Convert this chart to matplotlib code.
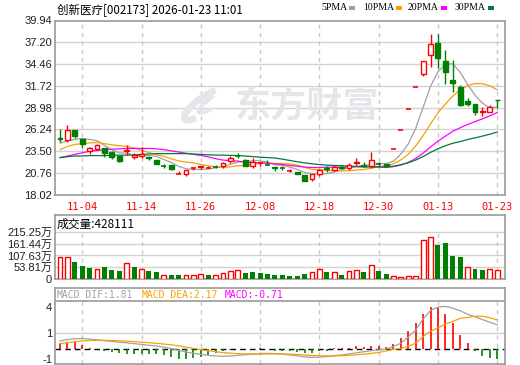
import matplotlib
matplotlib.use('Agg')
import matplotlib.pyplot as plt
from matplotlib.patches import Rectangle, Arc

# ---- data ----
title = '创新医疗[002173] 2026-01-23 11:01'
date_labels = ['11-04', '11-14', '11-26', '12-08', '12-18', '12-30', '01-13', '01-23']
date_idx = [3, 11, 19, 27, 35, 43, 51, 59]

opens = [25.2, 24.9, 26.16, 25.03, 23.56, 23.73, 23.86, 23.44, 22.89, 23.56,
         22.8, 22.9, 22.75, 22.39, 21.7, 21.76, 20.6, 20.67, 21.35, 21.5,
         21.35, 21.6, 21.67, 22.27, 23.0, 22.4, 21.67, 21.95, 21.8, 21.55,
         21.45, 20.95, 20.85, 20.5, 19.97, 20.65, 21.4, 21.14, 21.55, 21.35,
         22.0, 21.8, 21.67, 21.9, 21.85, 23.76, 26.14, 28.75, 31.63, 33.2,
         35.57, 37.1, 34.82, 32.52, 31.6, 29.83, 29.4, 28.4, 28.45, 30.0]
highs = [26.28, 26.78, 26.2, 25.03, 24.06, 24.4, 23.9, 23.5, 22.95, 24.27,
         23.3, 24.0, 22.75, 22.39, 21.9, 21.8, 21.0, 21.14, 21.55, 21.67,
         21.67, 21.76, 22.2, 22.93, 23.3, 22.55, 22.6, 22.2, 22.4, 21.55,
         21.6, 21.25, 20.85, 20.5, 20.6, 21.3, 21.67, 21.76, 21.6, 22.0,
         22.6, 22.2, 23.35, 22.2, 21.9, 23.76, 26.14, 28.75, 31.63, 34.79,
         38.2, 38.3, 36.2, 35.0, 31.8, 30.2, 29.4, 29.0, 29.3, 30.0]
lows = [24.65, 24.65, 25.15, 23.9, 23.1, 23.7, 22.8, 22.48, 22.18, 23.0,
        22.48, 22.7, 22.4, 21.85, 21.35, 21.1, 20.6, 20.42, 21.1, 21.27,
        21.35, 21.35, 21.4, 21.98, 22.7, 21.6, 21.35, 21.7, 21.76, 21.05,
        21.1, 20.85, 20.6, 19.8, 19.8, 20.4, 20.9, 21.0, 21.3, 21.1,
        21.76, 21.5, 21.35, 21.6, 21.5, 23.76, 26.14, 28.75, 31.63, 32.9,
        34.1, 33.97, 31.9, 30.96, 29.2, 29.2, 28.04, 27.95, 28.45, 28.9]
closes = [25.1, 26.16, 25.4, 24.4, 23.86, 24.27, 23.23, 22.8, 22.3, 23.65,
          23.0, 23.2, 22.6, 21.85, 21.65, 21.22, 20.66, 21.14, 21.4, 21.6,
          21.4, 21.55, 22.05, 22.7, 22.95, 21.67, 22.2, 22.0, 21.76, 21.35,
          21.4, 21.0, 20.6, 19.8, 20.6, 21.15, 21.3, 21.55, 21.35, 21.76,
          22.1, 21.7, 22.4, 21.85, 21.6, 23.76, 26.14, 28.75, 31.63, 34.79,
          37.04, 35.28, 33.47, 32.02, 29.3, 29.5, 28.45, 28.5, 29.0, 29.9]

ma5 = [24.5, 24.8, 25.0, 25.1, 24.98, 24.82, 24.23, 23.71, 23.29, 23.25,
       23.0, 22.99, 22.95, 22.86, 22.46, 22.10, 21.60, 21.30, 21.21, 21.20,
       21.24, 21.42, 21.60, 21.86, 22.13, 22.18, 22.31, 22.30, 22.12, 21.80,
       21.74, 21.50, 21.22, 20.83, 20.68, 20.63, 20.69, 20.88, 21.19, 21.42,
       21.61, 21.69, 21.86, 21.96, 21.93, 22.26, 23.15, 24.42, 26.38, 29.01,
       31.66, 33.49, 34.43, 34.51, 33.42, 31.91, 30.55, 29.55, 28.95, 29.07]
ma10 = [23.7, 24.1, 24.35, 24.45, 24.55, 24.6, 24.45, 24.3, 24.2, 24.12,
        23.91, 23.61, 23.33, 23.08, 22.86, 22.55, 22.29, 22.13, 22.04, 21.83,
        21.67, 21.51, 21.45, 21.54, 21.67, 21.71, 21.87, 21.96, 21.99, 21.96,
        21.96, 21.91, 21.76, 21.47, 21.23, 21.18, 21.09, 21.05, 21.01, 21.05,
        21.12, 21.19, 21.37, 21.57, 21.67, 21.93, 22.41, 23.13, 24.16, 25.46,
        26.95, 28.31, 29.42, 30.44, 31.21, 31.78, 32.01, 31.99, 31.73, 31.24]
ma20 = [22.7, 22.9, 23.1, 23.3, 23.5, 23.6, 23.7, 23.75, 23.8, 23.85,
        23.85, 23.85, 23.85, 23.8, 23.7, 23.55, 23.4, 23.25, 23.1, 22.97,
        22.79, 22.56, 22.39, 22.31, 22.26, 22.13, 22.08, 22.04, 22.01, 21.90,
        21.82, 21.71, 21.61, 21.51, 21.46, 21.45, 21.48, 21.50, 21.50, 21.51,
        21.54, 21.55, 21.57, 21.53, 21.46, 21.56, 21.76, 22.10, 22.59, 23.26,
        24.04, 24.76, 25.40, 26.01, 26.45, 26.86, 27.22, 27.57, 27.95, 28.36]
ma30 = [22.7, 22.8, 22.9, 22.9, 22.95, 22.95, 22.95, 23.0, 23.0, 23.0,
        23.05, 23.1, 23.15, 23.2, 23.2, 23.2, 23.2, 23.2, 23.15, 23.1,
        23.05, 23.02, 23.0, 22.98, 22.95, 22.9, 22.82, 22.75, 22.7, 22.64,
        22.51, 22.34, 22.18, 22.03, 21.92, 21.82, 21.75, 21.71, 21.68, 21.62,
        21.59, 21.54, 21.53, 21.53, 21.53, 21.61, 21.80, 22.05, 22.39, 22.83,
        23.35, 23.81, 24.19, 24.50, 24.71, 24.97, 25.18, 25.40, 25.64, 25.92]

# volume in 万
volume = [99, 99, 78, 59, 50, 44, 53, 41, 38, 75,
          53, 47, 38, 32, 17, 18, 18, 17, 17, 23,
          18, 18, 26, 38, 41, 29, 32, 29, 21, 18,
          18, 14, 14, 21, 31, 44, 32, 31, 18, 35,
          41, 32, 63, 38, 23, 12, 9, 14, 14, 177,
          191, 156, 166, 105, 101, 54, 46, 43, 46, 41]
vol_up = 'rrgggrgggr' 'grggrggrrr' 'grrrrggggg' 'ggggrrgrgr' 'rgrggrrrrr' 'rggggrggrr'

dif = [0.62, 0.72, 0.78, 0.8, 0.76, 0.7, 0.64, 0.58, 0.52, 0.48,
       0.42, 0.36, 0.3, 0.24, 0.16, 0.05, -0.08, -0.2, -0.3, -0.38,
       -0.45, -0.5, -0.52, -0.5, -0.45, -0.4, -0.36, -0.32, -0.3, -0.32,
       -0.36, -0.42, -0.48, -0.56, -0.6, -0.58, -0.54, -0.48, -0.42, -0.35,
       -0.26, -0.18, -0.1, -0.04, 0.02, 0.2, 0.45, 0.92, 1.42, 2.25,
       2.88, 3.12, 3.18, 3.05, 2.85, 2.6, 2.4, 2.2, 2.0, 1.81]
dea = [0.42, 0.5, 0.56, 0.62, 0.65, 0.66, 0.66, 0.65, 0.63, 0.6,
       0.57, 0.53, 0.49, 0.44, 0.39, 0.33, 0.25, 0.16, 0.07, -0.02,
       -0.1, -0.18, -0.24, -0.29, -0.32, -0.34, -0.35, -0.35, -0.35, -0.34,
       -0.35, -0.36, -0.38, -0.42, -0.46, -0.48, -0.49, -0.49, -0.48, -0.45,
       -0.41, -0.36, -0.3, -0.24, -0.12, 0.0, 0.05, 0.22, 0.45, 0.94,
       1.33, 1.58, 1.87, 2.06, 2.3, 2.35, 2.45, 2.45, 2.34, 2.17]
macd = [0.5, 0.55, 0.55, 0.32, 0.08, 0.02, -0.1, -0.2, -0.28, -0.32,
        -0.35, -0.35, -0.35, -0.35, -0.42, -0.59, -0.72, -0.72, -0.67, -0.54,
        -0.42, -0.25, -0.1, -0.02, 0.05, 0.05, 0.05, 0.06, 0.05, -0.1,
        -0.1, -0.12, -0.17, -0.25, -0.25, -0.12, -0.1, 0.07, 0.07, 0.07,
        0.24, 0.2, 0.24, 0.24, 0.2, 0.39, 0.81, 1.36, 1.98, 2.62,
        3.11, 3.09, 2.62, 1.98, 1.06, 0.49, -0.1, -0.5, -0.67, -0.71]

price_ticks = [39.94, 37.20, 34.46, 31.72, 28.98, 26.24, 23.50, 20.76, 18.02]
vol_ticks = [0, 53.81, 107.63, 161.44, 215.25]

RED = '#ff0000'
GREEN = '#008000'
GRAY = '#a0a0a0'
ORANGE = '#f5a300'
MAGENTA = '#ff00ff'
DKGREEN = '#007a3d'
BORDER = '#999999'
GRID = '#d2d2d2'
WMARK = '#e6e6ea'

W, H = 520, 365
plt.rcParams['font.family'] = ['Liberation Sans', 'Noto Sans CJK SC']

fig = plt.figure(figsize=(5.2, 3.65), dpi=100)


def box(l, t, r, b):
    return [l / W, 1 - b / H, (r - l) / W, (b - t) / H]


def style(ax):
    for s in ax.spines.values():
        s.set_color(BORDER)
        s.set_linewidth(1.2)
    ax.tick_params(length=0, pad=2, labelsize=8, colors='#1e1e28')


n = len(closes)
xs = list(range(n))
xlim = (-0.675, 60.05)
bw = 0.66

# ---- main price panel ----
ax = fig.add_axes(box(55, 20.5, 505, 194.8))
style(ax)
ax.set_xlim(*xlim)
ax.set_ylim(18.02, 39.94)
ax.set_yticks(price_ticks)
ax.set_yticklabels(['%.2f' % v for v in price_ticks])
for v in price_ticks[1:-1]:
    ax.axhline(v, color=GRID, lw=1, zorder=0)
for xi in date_idx:
    ax.axvline(xi, color='#c8c8c8', lw=1, ls=(0, (3, 3)), zorder=0)
ax.set_xticks(date_idx)
ax.set_xticklabels(date_labels, family='DejaVu Sans Mono', fontsize=7.5, color=RED)
ax.tick_params(axis='x', pad=5)

# watermark
ax.text(0.56, 0.51, '东方财富', transform=ax.transAxes, fontsize=26, fontweight='bold',
        color=WMARK, ha='center', va='center', family='Noto Sans CJK SC', zorder=1)
ax.add_patch(Arc((0.335, 0.52), 0.05, 0.2, angle=-25, theta1=100, theta2=280,
                 transform=ax.transAxes, color=WMARK, lw=5, zorder=1))
ax.add_patch(Arc((0.35, 0.53), 0.03, 0.13, angle=-25, theta1=110, theta2=290,
                 transform=ax.transAxes, color=WMARK, lw=3, zorder=1))

ax.plot(xs, ma5, color=GRAY, lw=0.9, zorder=2)
ax.plot(xs, ma10, color=ORANGE, lw=0.9, zorder=2)
ax.plot(xs, ma20, color=MAGENTA, lw=0.9, zorder=2)
ax.plot(xs, ma30, color=DKGREEN, lw=0.9, zorder=2)

for i in xs:
    o, h, l, c = opens[i], highs[i], lows[i], closes[i]
    up = c >= o
    col = RED if up else GREEN
    ax.vlines(i, l, h, color=col, lw=1, zorder=3)
    if abs(c - o) < 0.06:
        ax.hlines(c, i - bw / 2, i + bw / 2, color=col, lw=1.2, zorder=4)
    elif up:
        ax.add_patch(Rectangle((i - bw / 2, o), bw, c - o, facecolor='white',
                               edgecolor=RED, lw=1, zorder=4))
    else:
        ax.add_patch(Rectangle((i - bw / 2, c), bw, o - c, facecolor=GREEN,
                               edgecolor=GREEN, lw=1, zorder=4))

# ---- volume panel ----
axv = fig.add_axes(box(55, 215, 505, 279))
style(axv)
axv.set_xlim(*xlim)
axv.set_ylim(0, 215.25 * 64 / 47)
axv.set_xticks([])
axv.set_yticks(vol_ticks)
axv.set_yticklabels(['0'] + ['%.2f万' % v for v in vol_ticks[1:]])
for v in vol_ticks[1:]:
    axv.axhline(v, color=GRID, lw=1, zorder=0)
axv.vlines(date_idx, 0, 215.25, color='#c8c8c8', lw=1, ls=(0, (3, 3)), zorder=0)
for i in xs:
    if vol_up[i] == 'r':
        axv.bar(i, volume[i], width=bw, facecolor='white', edgecolor=RED, lw=1, zorder=3)
    else:
        axv.bar(i, volume[i], width=bw, color=GREEN, lw=0, zorder=3)

# ---- MACD panel ----
axm = fig.add_axes(box(55, 288, 505, 364))
style(axm)
axm.set_xlim(*xlim)
axm.set_ylim(-1.09, 4.54)
axm.set_xticks([])
axm.set_yticks([3.13, 1.19, -0.72])
axm.set_yticklabels(['4', '1', '-1'])
axm.axhline(3.58, color=BORDER, lw=1.2)
axm.axhline(1.19, color=GRID, lw=1, zorder=0)
axm.vlines(date_idx, -1.09, 3.58, color='#c8c8c8', lw=1, ls=(0, (3, 3)), zorder=0)
axm.axhline(0, color='black', lw=1, ls=(0, (4, 3)), zorder=2)
for i in xs:
    axm.vlines(i, 0, macd[i], color=RED if macd[i] >= 0 else GREEN, lw=1.2, zorder=3)
axm.plot(xs, dif, color=GRAY, lw=0.9, zorder=4)
axm.plot(xs, dea, color=ORANGE, lw=0.9, zorder=4)

# ---- header texts ----
fig.text(57 / W, 1 - 10 / H, title, fontsize=8.3, va='center',
         family=['Noto Sans CJK SC', 'DejaVu Sans'])
fig.text(57 / W, 1 - 224 / H, '成交量:428111', fontsize=8.5, va='center',
         family=['Noto Sans CJK SC', 'DejaVu Sans'])
fig.text(57 / W, 1 - 295 / H, 'MACD_DIF:1.81', fontsize=7, va='center',
         family='DejaVu Sans Mono', color=GRAY)
fig.text(142 / W, 1 - 295 / H, 'MACD_DEA:2.17', fontsize=7, va='center',
         family='DejaVu Sans Mono', color=ORANGE)
fig.text(225 / W, 1 - 295 / H, 'MACD:-0.71', fontsize=7, va='center',
         family='DejaVu Sans Mono', color=MAGENTA)

legend = [('5PMA', 321, GRAY), ('10PMA', 363, ORANGE),
          ('20PMA', 408, MAGENTA), ('30PMA', 455, DKGREEN)]
for name, lx, col in legend:
    t = fig.text(lx / W, 1 - 8 / H, name, fontsize=7, va='center',
                 family='Liberation Serif')
    fig.canvas.draw()
    bb = t.get_window_extent()
    sx = bb.x1 + 2
    fig.add_artist(Rectangle((sx / W, 1 - 10 / H), 6 / W, 4 / H, transform=fig.transFigure,
                             facecolor=col, edgecolor='none'))

fig.savefig('out.png', dpi=100)
